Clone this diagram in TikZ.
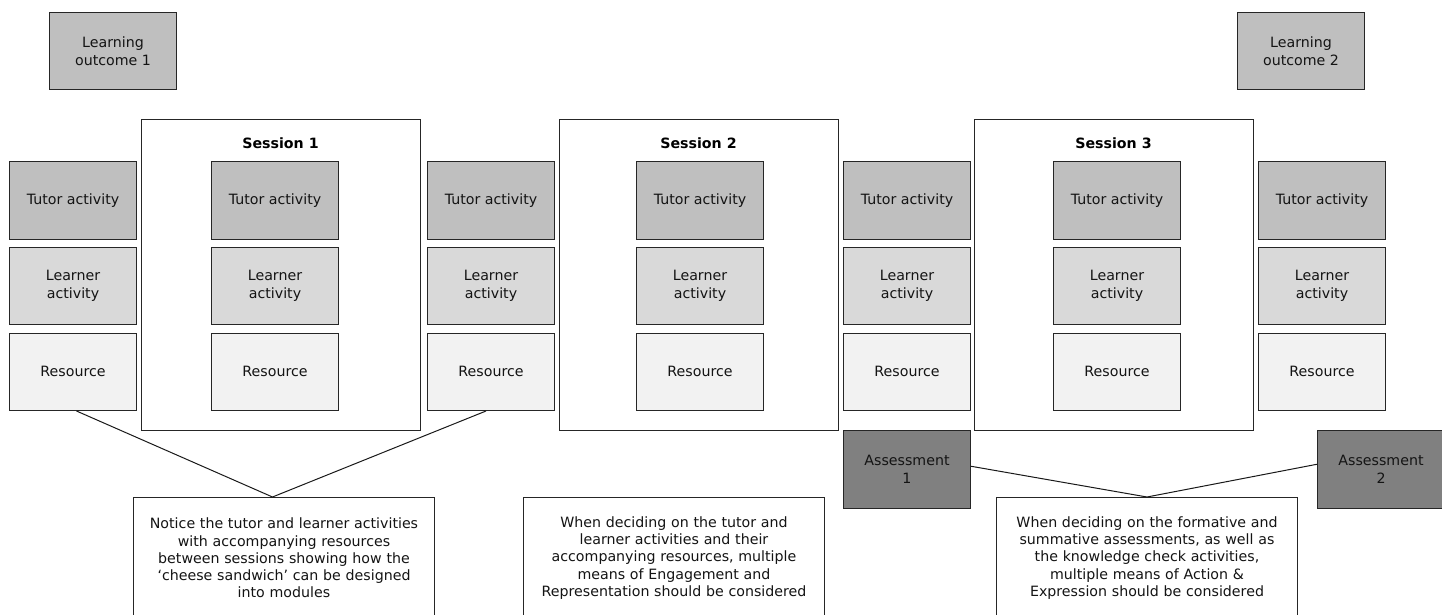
\documentclass[tikz,border=0pt]{standalone}
\usepackage{fontspec}
\setmainfont{DejaVu Sans}
\definecolor{tutorfill}{HTML}{BFBFBF}
\definecolor{learnfill}{HTML}{D9D9D9}
\definecolor{resfill}{HTML}{F2F2F2}
\definecolor{assfill}{HTML}{808080}
\definecolor{edgecol}{HTML}{262626}
\tikzset{
  base/.style={draw=edgecol, line width=1pt, anchor=north west, inner sep=2pt,
    align=center, font=\fontsize{14.2}{17.25}\selectfont, text=black!92},
  cellbox/.style={base, minimum width=127pt, minimum height=77.5pt},
  tutorbox/.style={cellbox, fill=tutorfill},
  learnbox/.style={cellbox, fill=learnfill},
  resbox/.style={cellbox, fill=resfill},
  lobox/.style={cellbox, fill=tutorfill},
  assbox/.style={cellbox, fill=assfill},
  sessbox/.style={base, fill=white, minimum width=279pt, minimum height=311pt},
  sesstitle/.style={font=\fontsize{14.2}{17}\selectfont\bfseries, text=black, anchor=center},
  notebox/.style={base, fill=white, text width=295pt, inner sep=3pt, minimum height=121pt},
  conn/.style={draw=black!90, line width=1pt}
}
\begin{document}
\begin{tikzpicture}[x=1pt,y=-1pt]
\useasboundingbox (0,0) rectangle (1442,615);
\clip (0,0) rectangle (1442,615);
% learning outcomes
\node[lobox] (lo1) at (49,12) {Learning\\outcome 1};
\node[lobox] (lo2) at (1237,12) {Learning\\outcome 2};
% sessions
\node[sessbox] (s1) at (141,119) {};
\node[sessbox] (s2) at (559,119) {};
\node[sessbox] (s3) at (974,119) {};
\node[sesstitle] (s1t) at (280.5,143) {Session 1};
\node[sesstitle] (s2t) at (698.5,143) {Session 2};
\node[sesstitle] (s3t) at (1113.5,143) {Session 3};
% outer columns
\foreach \x [count=\i] in {9,427,843,1258}{
  \node[tutorbox] (to\i) at (\x,161) {Tutor activity};
  \node[learnbox] (lo\i) at (\x,246.5) {Learner\\activity};
  \node[resbox] (ro\i) at (\x,332.5) {Resource};
}
% inner columns
\foreach \x [count=\i] in {211,636,1053}{
  \node[tutorbox] (ti\i) at (\x,161) {Tutor activity};
  \node[learnbox] (li\i) at (\x,246.5) {Learner\\activity};
  \node[resbox] (ri\i) at (\x,332.5) {Resource};
}
% assessments
\node[assbox] (a1) at (843,430) {Assessment\\1};
\node[assbox] (a2) at (1317,430) {Assessment\\2};
% notes
\node[notebox] (n1) at (133,497) {Notice the tutor and learner activities\\with accompanying resources\\between sessions showing how the\\‘cheese sandwich’ can be designed\\into modules};
\node[notebox] (n2) at (523,497) {When deciding on the tutor and\\learner activities and their\\accompanying resources, multiple\\means of Engagement and\\Representation should be considered};
\node[notebox] (n3) at (996,497) {When deciding on the formative and\\summative assessments, as well as\\the knowledge check activities,\\multiple means of Action \&\\Expression should be considered};
% connectors
\coordinate (j1) at ([xshift=-11.5pt]n1.north);
\draw[conn] ([xshift=3.5pt]ro1.south) -- (j1) -- ([xshift=-5pt]ro2.south);
\draw[conn] ([yshift=3pt]a1.east) -- (n3.north) -- ([yshift=5pt]a2.west);
\end{tikzpicture}
\end{document}
